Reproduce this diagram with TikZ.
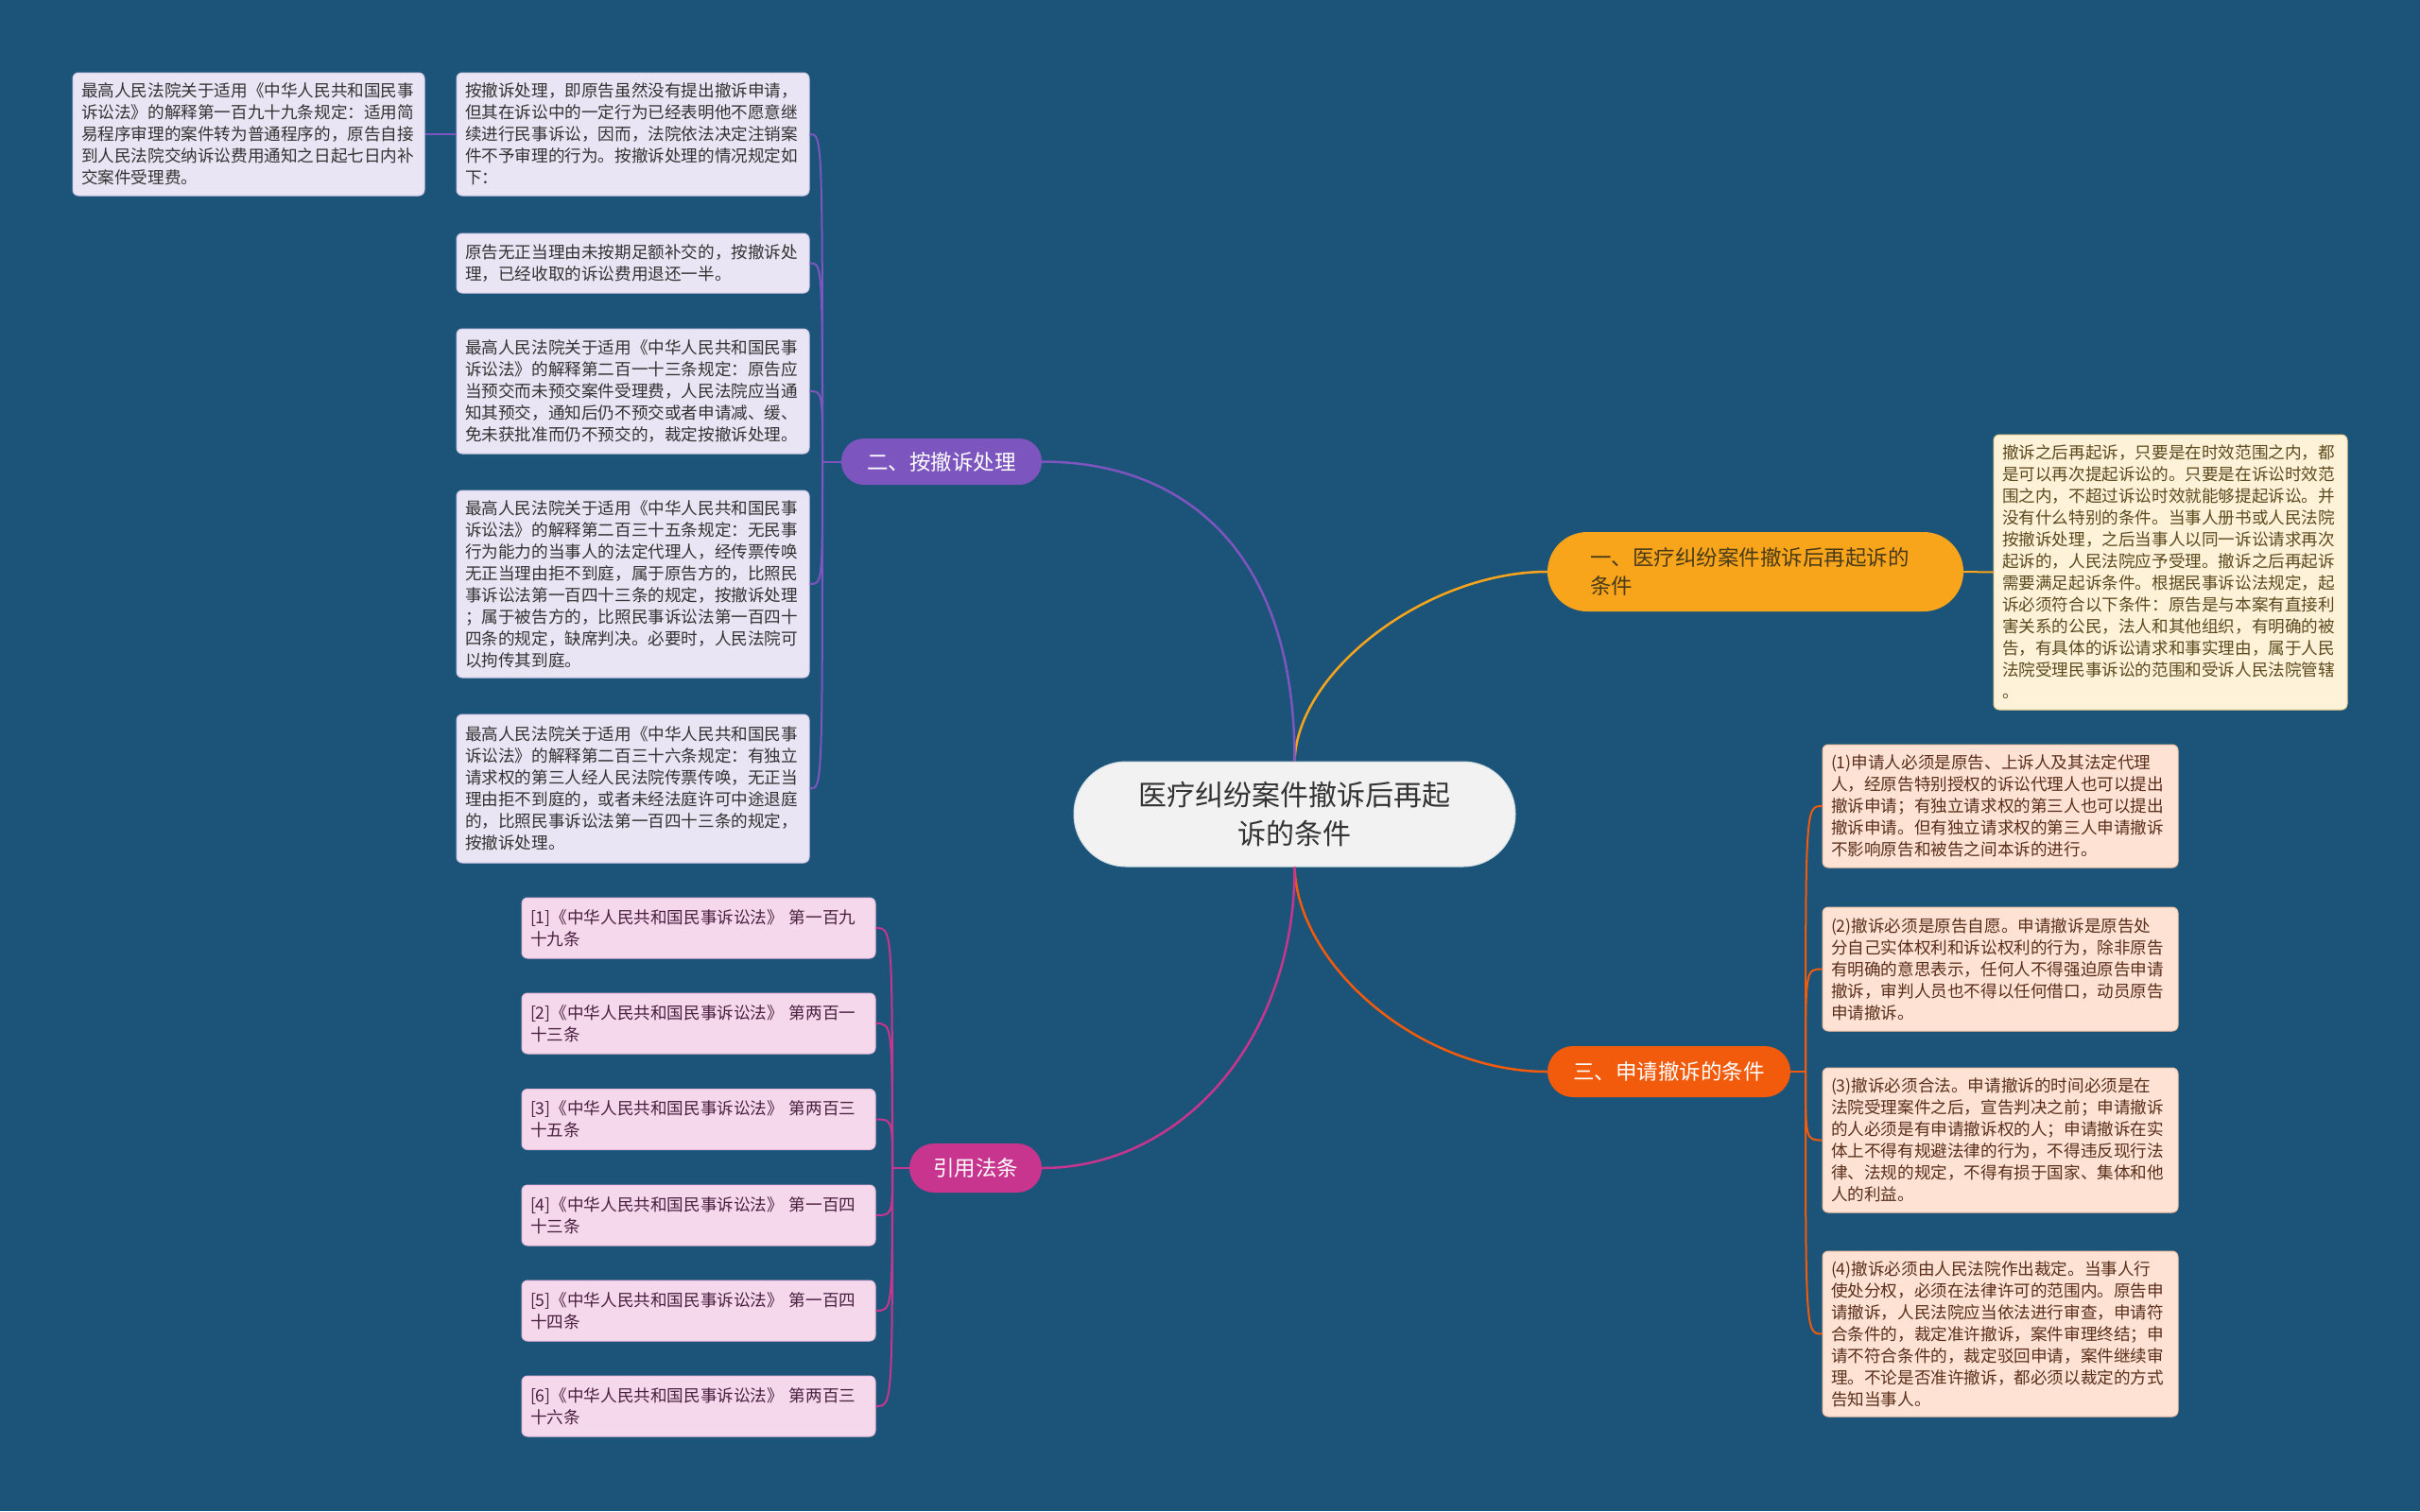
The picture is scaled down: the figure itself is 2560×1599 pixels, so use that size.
\documentclass[tikz,border=0pt]{standalone}
\usepackage{fontspec}
\setmainfont{Noto Sans CJK SC}
\definecolor{bg}{HTML}{1B5478}
\definecolor{lavfill}{HTML}{E9E5F4}
\definecolor{lavdraw}{HTML}{D3CAEA}
\definecolor{pinkfill}{HTML}{F6D8EC}
\definecolor{pinkdraw}{HTML}{E9BCDB}
\definecolor{creamfill}{HTML}{FEF3D9}
\definecolor{creamdraw}{HTML}{F2D38E}
\definecolor{peachfill}{HTML}{FEE3D5}
\definecolor{peachdraw}{HTML}{F5C2A6}
\definecolor{cone}{HTML}{F9A51C}
\definecolor{ctwo}{HTML}{7D55BE}
\definecolor{cthree}{HTML}{F25A0C}
\definecolor{cfour}{HTML}{C8358F}
\definecolor{rootfill}{HTML}{F2F2F2}
\definecolor{txtdark}{HTML}{333333}
\definecolor{txtref}{HTML}{4A2040}
\definecolor{txtcream}{HTML}{5C4A1E}
\definecolor{txtpeach}{HTML}{5A2E1A}
\tikzset{
  leafbox/.style={rectangle, rounded corners=6pt, line width=1pt, inner xsep=9pt, inner ysep=0pt,
    align=left, anchor=center, font=\fontsize{17.6}{23}\selectfont},
  lav/.style={leafbox, fill=lavfill, draw=lavdraw, text=txtdark},
  pinkb/.style={leafbox, fill=pinkfill, draw=pinkdraw, text=txtref},
  creamb/.style={leafbox, fill=creamfill, draw=creamdraw, text=txtcream},
  peachb/.style={leafbox, fill=peachfill, draw=peachdraw, text=txtpeach},
  branchbox/.style={rectangle, inner sep=0pt, font=\fontsize{22.5}{30}\selectfont},
  link/.style={line width=2pt},
  mainlink/.style={line width=2.5pt}
}
\begin{document}
\begin{tikzpicture}[x=1pt,y=-1pt]
\useasboundingbox (0,0) rectangle (2560,1599);
\fill[bg] (0,0) rectangle (2560,1599);

% root
\node[rectangle, rounded corners=55pt, fill=rootfill, draw=white!80!bg, line width=1pt,
  minimum width=467pt, minimum height=111pt, inner sep=0pt, align=center, text=txtdark,
  font=\fontsize{30}{41}\selectfont] (root) at (1369.5,861.5) {医疗纠纷案件撤诉后再起\\诉的条件};

% branches
\node[branchbox, rounded corners=42pt, fill=cone, minimum width=440pt, minimum height=84pt,
  text width=350pt, align=left, text=txtcream!80!black] (b1) at (1857,605)
  {一、医疗纠纷案件撤诉后再起诉的\\条件};
\node[branchbox, rounded corners=24pt, fill=ctwo, minimum width=212pt, minimum height=49pt, text=white]
  (b2) at (996,488.5) {二、按撤诉处理};
\node[branchbox, rounded corners=27pt, fill=cthree, minimum width=257pt, minimum height=54pt, text=white]
  (b3) at (1765.5,1134) {三、申请撤诉的条件};
\node[branchbox, rounded corners=26pt, fill=cfour, minimum width=140pt, minimum height=52pt, text=white]
  (b4) at (1032,1236) {引用法条};

% branch 2 leaves
\node[lav, minimum width=372pt, text width=354pt, minimum height=130pt] (l0) at (263,142)
{最高人民法院关于适用《中华人民共和国民事\\诉讼法》的解释第一百九十九条规定：适用简\\易程序审理的案件转为普通程序的，原告自接\\到人民法院交纳诉讼费用通知之日起七日内补\\交案件受理费。};
\node[lav, minimum width=373pt, text width=355pt, minimum height=130pt] (a) at (669.5,142)
{按撤诉处理，即原告虽然没有提出撤诉申请，\\但其在诉讼中的一定行为已经表明他不愿意继\\续进行民事诉讼，因而，法院依法决定注销案\\件不予审理的行为。按撤诉处理的情况规定如\\下：};
\node[lav, minimum width=373pt, text width=355pt, minimum height=63pt] (b) at (669.5,278.5)
{原告无正当理由未按期足额补交的，按撤诉处\\理，已经收取的诉讼费用退还一半。};
\node[lav, minimum width=373pt, text width=355pt, minimum height=132pt] (c) at (669.5,414)
{最高人民法院关于适用《中华人民共和国民事\\诉讼法》的解释第二百一十三条规定：原告应\\当预交而未预交案件受理费，人民法院应当通\\知其预交，通知后仍不预交或者申请减、缓、\\免未获批准而仍不预交的，裁定按撤诉处理。};
\node[lav, minimum width=373pt, text width=355pt, minimum height=198pt] (d) at (669.5,618)
{最高人民法院关于适用《中华人民共和国民事\\诉讼法》的解释第二百三十五条规定：无民事\\行为能力的当事人的法定代理人，经传票传唤\\无正当理由拒不到庭，属于原告方的，比照民\\事诉讼法第一百四十三条的规定，按撤诉处理\\；属于被告方的，比照民事诉讼法第一百四十\\四条的规定，缺席判决。必要时，人民法院可\\以拘传其到庭。};
\node[lav, minimum width=373pt, text width=355pt, minimum height=157pt] (e) at (669.5,834.5)
{最高人民法院关于适用《中华人民共和国民事\\诉讼法》的解释第二百三十六条规定：有独立\\请求权的第三人经人民法院传票传唤，无正当\\理由拒不到庭的，或者未经法庭许可中途退庭\\的，比照民事诉讼法第一百四十三条的规定，\\按撤诉处理。};

% references
\node[pinkb, minimum width=374pt, text width=356pt, minimum height=64pt] (r1) at (739,982)
{[1]《中华人民共和国民事诉讼法》 第一百九\\十九条};
\node[pinkb, minimum width=374pt, text width=356pt, minimum height=64pt] (r2) at (739,1083)
{[2]《中华人民共和国民事诉讼法》 第两百一\\十三条};
\node[pinkb, minimum width=374pt, text width=356pt, minimum height=64pt] (r3) at (739,1184.5)
{[3]《中华人民共和国民事诉讼法》 第两百三\\十五条};
\node[pinkb, minimum width=374pt, text width=356pt, minimum height=64pt] (r4) at (739,1286)
{[4]《中华人民共和国民事诉讼法》 第一百四\\十三条};
\node[pinkb, minimum width=374pt, text width=356pt, minimum height=64pt] (r5) at (739,1387)
{[5]《中华人民共和国民事诉讼法》 第一百四\\十四条};
\node[pinkb, minimum width=374pt, text width=356pt, minimum height=64pt] (r6) at (739,1488)
{[6]《中华人民共和国民事诉讼法》 第两百三\\十六条};

% branch 1 leaf
\node[creamb, minimum width=374pt, text width=356pt, minimum height=291pt] (t) at (2296,605.5)
{撤诉之后再起诉，只要是在时效范围之内，都\\是可以再次提起诉讼的。只要是在诉讼时效范\\围之内，不超过诉讼时效就能够提起诉讼。并\\没有什么特别的条件。当事人册书或人民法院\\按撤诉处理，之后当事人以同一诉讼请求再次\\起诉的，人民法院应予受理。撤诉之后再起诉\\需要满足起诉条件。根据民事诉讼法规定，起\\诉必须符合以下条件：原告是与本案有直接利\\害关系的公民，法人和其他组织，有明确的被\\告，有具体的诉讼请求和事实理由，属于人民\\法院受理民事诉讼的范围和受诉人民法院管辖\\。};

% branch 3 leaves
\node[peachb, minimum width=376pt, text width=358pt, minimum height=130pt] (p1) at (2116,853)
{(1)申请人必须是原告、上诉人及其法定代理\\人，经原告特别授权的诉讼代理人也可以提出\\撤诉申请；有独立请求权的第三人也可以提出\\撤诉申请。但有独立请求权的第三人申请撤诉\\不影响原告和被告之间本诉的进行。};
\node[peachb, minimum width=376pt, text width=358pt, minimum height=131pt] (p2) at (2116,1025.5)
{(2)撤诉必须是原告自愿。申请撤诉是原告处\\分自己实体权利和诉讼权利的行为，除非原告\\有明确的意思表示，任何人不得强迫原告申请\\撤诉，审判人员也不得以任何借口，动员原告\\申请撤诉。};
\node[peachb, minimum width=376pt, text width=358pt, minimum height=153pt] (p3) at (2116,1206.5)
{(3)撤诉必须合法。申请撤诉的时间必须是在\\法院受理案件之后，宣告判决之前；申请撤诉\\的人必须是有申请撤诉权的人；申请撤诉在实\\体上不得有规避法律的行为，不得违反现行法\\律、法规的规定，不得有损于国家、集体和他\\人的利益。};
\node[peachb, minimum width=376pt, text width=358pt, minimum height=175pt] (p4) at (2116,1411.5)
{(4)撤诉必须由人民法院作出裁定。当事人行\\使处分权，必须在法律许可的范围内。原告申\\请撤诉，人民法院应当依法进行审查，申请符\\合条件的，裁定准许撤诉，案件审理终结；申\\请不符合条件的，裁定驳回申请，案件继续审\\理。不论是否准许撤诉，都必须以裁定的方式\\告知当事人。};

% main connectors
\draw[mainlink, cone] (root.north) .. controls (1372,710) and (1510,605) .. (b1.west);
\draw[mainlink, ctwo] (root.north) .. controls (1370,580) and (1250,488.5) .. (b2.east);
\draw[mainlink, cthree] (root.south) .. controls (1372,1020) and (1500,1134) .. (b3.west);
\draw[mainlink, cfour] (root.south) .. controls (1370,1100) and (1250,1236) .. (b4.east);

% branch 1 connector
\draw[link, cone] (b1.east) -- (t.west);

% branch 2 connectors
\coordinate (s2) at (870,488.5);
\draw[link, ctwo] (b2.west) -- (s2);
\foreach \n in {a,b,c,d,e}{
  \draw[link, ctwo] (s2) .. controls (s2 |- \n.east) and (s2 |- \n.east) .. (\n.east);
}
\draw[link, ctwo] (a.west) -- (l0.east);

% branch 4 connectors
\coordinate (s4) at (944,1236);
\draw[link, cfour] (b4.west) -- (s4);
\foreach \n in {r1,r2,r3,r4,r5,r6}{
  \draw[link, cfour] (s4) .. controls (s4 |- \n.east) and (s4 |- \n.east) .. (\n.east);
}

% branch 3 connectors
\coordinate (s3) at (1910,1134);
\draw[link, cthree] (b3.east) -- (s3);
\foreach \n in {p1,p2,p3,p4}{
  \draw[link, cthree] (s3) .. controls (s3 |- \n.west) and (s3 |- \n.west) .. (\n.west);
}
\end{tikzpicture}
\end{document}
